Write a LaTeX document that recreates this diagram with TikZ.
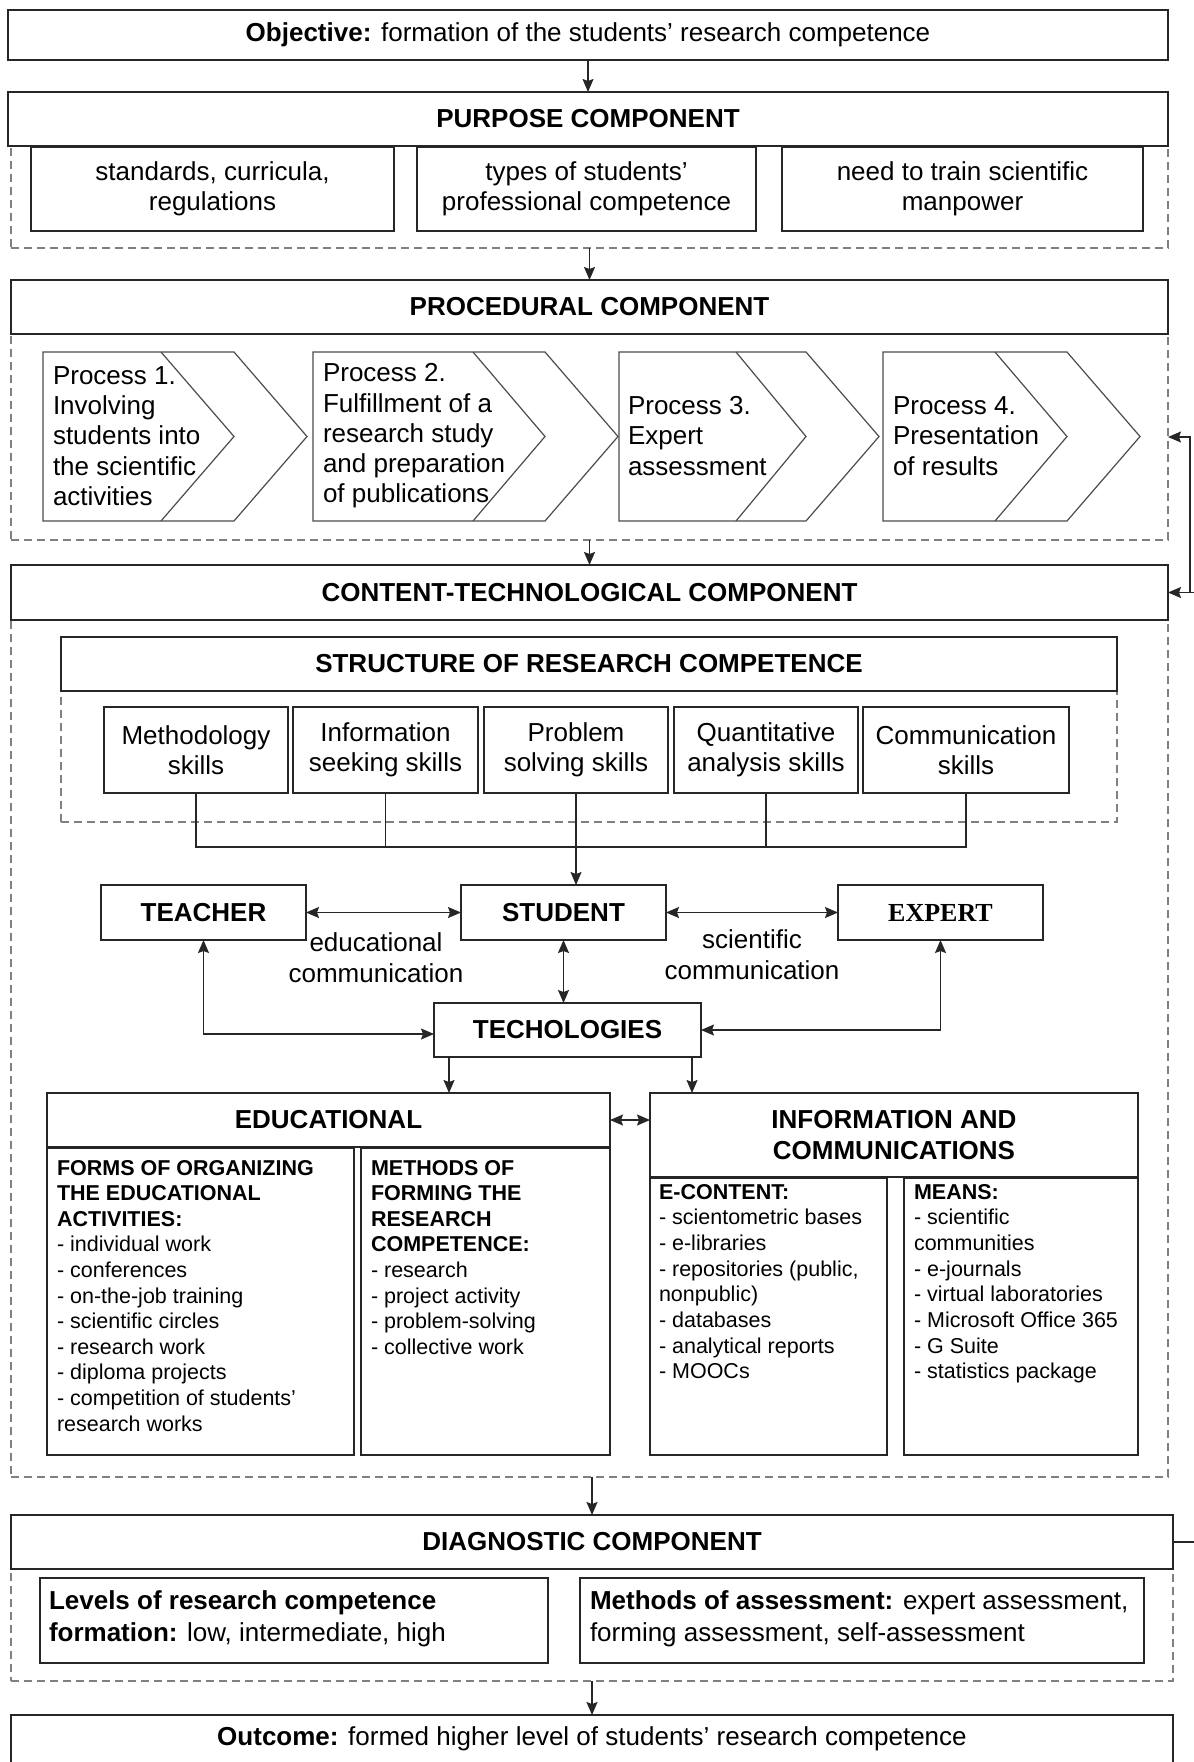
\documentclass[tikz,border=0pt]{standalone}
\usepackage{fontspec}
\setmainfont{Liberation Sans}
\newfontfamily\serifx{Liberation Serif}
\usetikzlibrary{arrows.meta}
\newcommand\fmain{\fontsize{26}{30.3}\selectfont}
\newcommand\fsmall{\fontsize{21.5}{25.7}\selectfont}
\begin{document}
\begin{tikzpicture}[x=1pt,y=-1pt,
  box/.style={draw=black!85, line width=1.6pt, fill=white, inner sep=0pt, outer sep=0pt, font=\fmain},
  hbox/.style={box, font=\fmain\bfseries},
  dbox/.style={draw=black!50, dash pattern=on 8pt off 5pt, line width=1.5pt, inner sep=0pt, outer sep=0pt},
  chevline/.style={draw=black!70, line width=1.2pt, line join=miter},
  conn/.style={draw=black!85, line width=1.4pt},
  arr/.style={conn, -{Stealth[length=13pt,width=11pt,inset=2pt]}},
  dbl/.style={conn, {Stealth[length=13pt,width=11pt,inset=2pt]}-{Stealth[length=13pt,width=11pt,inset=2pt]}},
  txt/.style={inner sep=0pt, outer sep=0pt, font=\fmain},
  lt/.style={inner sep=0pt, outer sep=0pt, font=\fsmall, anchor=base west}]
\useasboundingbox (0,0) rectangle (1194,1762);
\fill[white] (0,0) rectangle (1194,1762);

% Objective
\node[box, minimum width=1160pt, minimum height=50pt] (obj) at (588,35) {\textbf{Objective:} formation of the students’ research competence};

% Purpose
\node[dbox, minimum width=1157pt, minimum height=102pt] (purD) at (589.5,197) {};
\node[hbox, minimum width=1160pt, minimum height=54pt] (purH) at (588,119) {PURPOSE COMPONENT};
\node[box, align=center, minimum width=363pt, minimum height=84pt] (pu1) at (212.5,189) {standards, curricula,\\regulations};
\node[box, align=center, minimum width=339pt, minimum height=84pt] (pu2) at (586.5,189) {types of students’\\professional competence};
\node[box, align=center, minimum width=361pt, minimum height=84pt] (pu3) at (962.5,189) {need to train scientific\\manpower};
\draw[arr] (obj.south) -- (purH.north);

% Procedural
\node[dbox, minimum width=1157pt, minimum height=206pt] (procD) at (589.5,437) {};
\node[hbox, minimum width=1157pt, minimum height=54pt] (procH) at (589.5,307) {PROCEDURAL COMPONENT};
\draw[arr] (purD.south) -- (procH.north);
\foreach \L/\I/\C/\P in {43/161/234/307, 313/473/545/618, 619/736/806/879, 883/995/1067/1140}{
  \draw[chevline] (\L,352) -- (\C,352) -- (\P,436.5) -- (\C,521) -- (\L,521) -- cycle;
  \draw[chevline] (\I,352) -- (\C,436.5) -- (\I,521);
}
\node[txt, anchor=west, align=left] (p1) at (53,436) {Process 1.\\Involving\\students into\\the scientific\\activities};
\node[txt, anchor=west, align=left] (p2) at (323,436) {Process 2.\\Fulfillment of a\\research study\\and preparation\\of publications};
\node[txt, anchor=west, align=left] (p3) at (628,436) {Process 3.\\Expert\\assessment};
\node[txt, anchor=west, align=left] (p4) at (893,436) {Process 4.\\Presentation\\of results};

% Content-technological
\node[dbox, minimum width=1157pt, minimum height=857pt] (contD) at (589.5,1048.5) {};
\node[hbox, minimum width=1157pt, minimum height=55pt] (contH) at (589.5,592.5) {CONTENT-TECHNOLOGICAL COMPONENT};
\draw[arr] (procD.south) -- (contH.north);

\node[dbox, minimum width=1056pt, minimum height=131pt] (structD) at (589,756.5) {};
\node[hbox, minimum width=1056pt, minimum height=54pt] (structH) at (589,664) {STRUCTURE OF RESEARCH COMPETENCE};
\node[box, align=center, minimum width=184pt, minimum height=86pt] (sk1) at (196,750) {Methodology\\skills};
\node[box, align=center, minimum width=185pt, minimum height=86pt] (sk2) at (385.5,750) {Information\\seeking skills};
\node[box, align=center, minimum width=184pt, minimum height=86pt] (sk3) at (576,750) {Problem\\solving skills};
\node[box, align=center, minimum width=184pt, minimum height=86pt] (sk4) at (766,750) {Quantitative\\analysis skills};
\node[box, align=center, minimum width=206pt, minimum height=86pt] (sk5) at (966,750) {Communication\\skills};

\node[hbox, minimum width=205pt, minimum height=55pt] (teacher) at (203.5,912.5) {TEACHER};
\node[hbox, minimum width=205pt, minimum height=55pt] (student) at (563.5,912.5) {STUDENT};
\node[box, font=\fmain\serifx\bfseries, minimum width=205pt, minimum height=55pt] (expert) at (940.5,912.5) {EXPERT};
\node[hbox, minimum width=267pt, minimum height=54pt] (tech) at (567.5,1030) {TECHOLOGIES};

\coordinate (busL) at (196,847);
\coordinate (busR) at (966,847);
\draw[conn] (sk1.south) -- (busL) -- (busR) -- (sk5.south);
\draw[conn] (sk2.south) -- (sk2.south |- busL);
\draw[conn] (sk4.south) -- (sk4.south |- busL);
\draw[arr] (sk3.south) -- (sk3.south |- student.north);

\draw[dbl] (teacher.east) -- (student.west);
\draw[dbl] (student.east) -- (expert.west);
\draw[dbl] (student.south) -- (student.south |- tech.north);
\draw[dbl] (teacher.south) |- ([yshift=-4pt]tech.west);
\draw[dbl] (expert.south) |- (tech.east);
\node[txt, align=center, font=\fontsize{26}{31}\selectfont] (lab1) at (376,958) {educational\\communication};
\node[txt, align=center, font=\fontsize{26}{31}\selectfont] (lab2) at (752,955) {scientific\\communication};

% Educational and Info
\node[hbox, minimum width=563pt, minimum height=54pt] (eduH) at (328.5,1120) {EDUCATIONAL};
\node[box, minimum width=307pt, minimum height=307pt] (eduL) at (200.5,1301.5) {};
\node[box, minimum width=249pt, minimum height=307pt] (eduR) at (485.5,1301.5) {};
\node[hbox, align=center, font=\fontsize{26}{31}\selectfont\bfseries, minimum width=488pt, minimum height=84pt] (infoH) at (894,1135) {INFORMATION AND\\COMMUNICATIONS};
\node[box, minimum width=237pt, minimum height=277pt] (infoL) at (768.5,1316.5) {};
\node[box, minimum width=234pt, minimum height=277pt] (infoR) at (1021,1316.5) {};

\draw[arr] ([xshift=15pt]tech.south west) -- ([xshift=15pt]tech.south west |- eduH.north);
\draw[arr] ([xshift=-9pt]tech.south east) -- ([xshift=-9pt]tech.south east |- infoH.north);
\draw[dbl] (eduH.east) -- (eduH.east -| infoH.west);

\foreach \t [count=\i from 0] in {{\bfseries FORMS OF ORGANIZING},{\bfseries THE EDUCATIONAL},{\bfseries ACTIVITIES:},{- individual work},{- conferences},{- on-the-job training},{- scientific circles},{- research work},{- diploma projects},{- competition of students’},{research works}}
  \node[lt] (ea\i) at (57,{1175+25.6*\i}) {\t};
\foreach \t [count=\i from 0] in {{\bfseries METHODS OF},{\bfseries FORMING THE},{\bfseries RESEARCH},{\bfseries COMPETENCE:},{- research},{- project activity},{- problem-solving},{- collective work}}
  \node[lt] (eb\i) at (371,{1175+25.6*\i}) {\t};
\foreach \t [count=\i from 0] in {{\bfseries E-CONTENT:},{- scientometric bases},{- e-libraries},{- repositories (public,},{nonpublic)},{- databases},{- analytical reports},{- MOOCs}}
  \node[lt] (ia\i) at (659,{1199+25.7*\i}) {\t};
\foreach \t [count=\i from 0] in {{\bfseries MEANS:},{- scientific},{communities},{- e-journals},{- virtual laboratories},{- Microsoft Office 365},{- G Suite},{- statistics package}}
  \node[lt] (ib\i) at (914,{1199+25.7*\i}) {\t};

% Diagnostic
\node[dbox, minimum width=1162pt, minimum height=166pt] (diagD) at (592,1598) {};
\node[hbox, minimum width=1162pt, minimum height=54pt] (diagH) at (592,1542) {DIAGNOSTIC COMPONENT};
\draw[arr] (contD.south -| diagH.north) -- (diagH.north);
\node[box, minimum width=508pt, minimum height=85pt] (diagL) at (294,1620.5) {};
\node[box, minimum width=564pt, minimum height=85pt] (diagR) at (862,1620.5) {};
\node[txt, anchor=west, align=left, font=\fontsize{26}{32}\selectfont] (dlt) at (49,1619) {\textbf{Levels of research competence}\\\textbf{formation:} low, intermediate, high};
\node[txt, anchor=west, align=left, font=\fontsize{26}{32}\selectfont] (drt) at (590,1619) {\textbf{Methods of assessment:} expert assessment,\\forming assessment, self-assessment};

% Outcome
\node[box, minimum width=1162pt, minimum height=48pt] (out) at (592,1739) {\textbf{Outcome:} formed higher level of students’ research competence};
\draw[arr] (diagD.south) -- (out.north);

% Feedback connectors on the right
\coordinate (fbT) at (1190,437);
\coordinate (fbB) at (1190,592.5);
\coordinate (fbE) at (1194,592.5);
\coordinate (fbD) at (1194,1542);
\draw[arr] (fbE) -- (contH.east);
\draw[arr] (fbB) -- (fbT) -- (procD.east);
\draw[conn] (diagH.east) -- (fbD);
\end{tikzpicture}
\end{document}
